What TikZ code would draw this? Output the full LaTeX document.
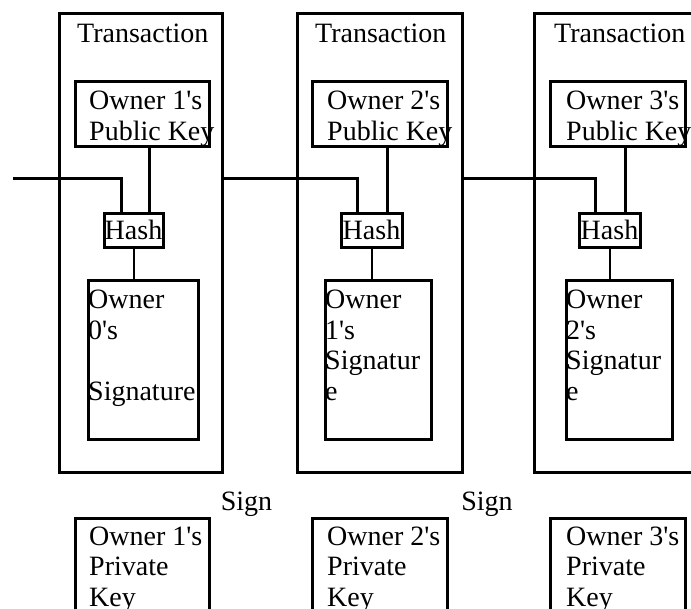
\documentclass[tikz,border=0pt]{standalone}
\usepackage{fontspec}
\setmainfont{Liberation Serif}
\usetikzlibrary{calc}

\newcommand{\q}{\textquotesingle}

\tikzset{
  box/.style={draw, line width=3pt, inner sep=0pt},
  txt/.style={inner sep=0pt, align=left, anchor=base west},
  wire/.style={line width=3pt},
  thinwire/.style={line width=2pt},
}

\begin{document}
\begin{tikzpicture}[x=1pt,y=-1pt,font=\fontsize{28}{30.5}\selectfont]
  \useasboundingbox (0,0) rectangle (691,608);
  \clip (0,0) rectangle (691,608);

  % transactions
  \node[box, minimum width=163pt, minimum height=459pt] (tx1) at (140.5,242.5) {};
  \node[box, minimum width=165pt, minimum height=459pt] (tx2) at (379.5,242.5) {};
  \node[box, minimum width=165pt, minimum height=459pt] (tx3) at (616.5,242.5) {};
  \node[txt] (tt1) at (77,42) {Transaction};
  \node[txt] (tt2) at (315,42) {Transaction};
  \node[txt] (tt3) at (554,42) {Transaction};

  \node[box, minimum width=134pt, minimum height=65pt] (pub1) at (142,113.5) {};
  \node[box, minimum width=135pt, minimum height=65pt] (pub2) at (379.5,113.5) {};
  \node[box, minimum width=135pt, minimum height=65pt] (pub3) at (617.5,113.5) {};
  % base of a multi-line node = its last line
  \node[txt] (pt1) at (89,140) {Owner 1\q s\\Public Key};
  \node[txt] (pt2) at (327,140) {Owner 2\q s\\Public Key};
  \node[txt] (pt3) at (566,140) {Owner 3\q s\\Public Key};

  \node[box, minimum width=59pt, minimum height=34pt] (hash1) at (133.5,230) {Hash};
  \node[box, minimum width=61pt, minimum height=34pt] (hash2) at (371.5,230) {Hash};
  \node[box, minimum width=61pt, minimum height=34pt] (hash3) at (609.5,230) {Hash};

  \node[box, minimum width=110pt, minimum height=159pt] (sig1) at (143,359.5) {};
  \node[box, minimum width=106pt, minimum height=159pt] (sig2) at (378,359.5) {};
  \node[box, minimum width=106pt, minimum height=159pt] (sig3) at (619,359.5) {};
  \node[txt] (st1) at (88,400) {Owner\\0\q s\\[30.5pt]Signature};
  \node[txt] (st2) at (325,400) {Owner\\1\q s\\Signatur\\e};
  \node[txt] (st3) at (566,400) {Owner\\2\q s\\Signatur\\e};

  % private keys
  \node[box, minimum width=134pt, minimum height=150pt] (priv1) at (142,593) {};
  \node[box, minimum width=135pt, minimum height=150pt] (priv2) at (379.5,593) {};
  \node[box, minimum width=135pt, minimum height=150pt] (priv3) at (617.5,593) {};
  \node[txt] (kt1) at (89,606) {Owner 1\q s\\Private\\Key};
  \node[txt] (kt2) at (327,606) {Owner 2\q s\\Private\\Key};
  \node[txt] (kt3) at (566,606) {Owner 3\q s\\Private\\Key};

  \node[inner sep=0pt, anchor=base] (sign1) at (246.5,510) {Sign};
  \node[inner sep=0pt, anchor=base] (sign2) at (487,510) {Sign};

  % chain
  \coordinate (in) at (13,178);
  \coordinate (c1) at (121,178);
  \coordinate (c2) at (357,178);
  \coordinate (c3) at (595,178);

  \draw[wire] (in) -- (c1) -- (c1 |- hash1.north);
  \draw[wire] (tx1.east |- c2) -- (c2) -- (c2 |- hash2.north);
  \draw[wire] (tx2.east |- c3) -- (c3) -- (c3 |- hash3.north);

  \draw[wire] ([xshift=7pt]pub1.south) -- ([xshift=7pt]pub1.south |- hash1.north);
  \draw[wire] ([xshift=7.5pt]pub2.south) -- ([xshift=7.5pt]pub2.south |- hash2.north);
  \draw[wire] ([xshift=7.5pt]pub3.south) -- ([xshift=7.5pt]pub3.south |- hash3.north);

  \draw[thinwire] (hash1.south) -- (hash1.south |- sig1.north);
  \draw[thinwire] (hash2.south) -- (hash2.south |- sig2.north);
  \draw[thinwire] (hash3.south) -- (hash3.south |- sig3.north);
\end{tikzpicture}
\end{document}
